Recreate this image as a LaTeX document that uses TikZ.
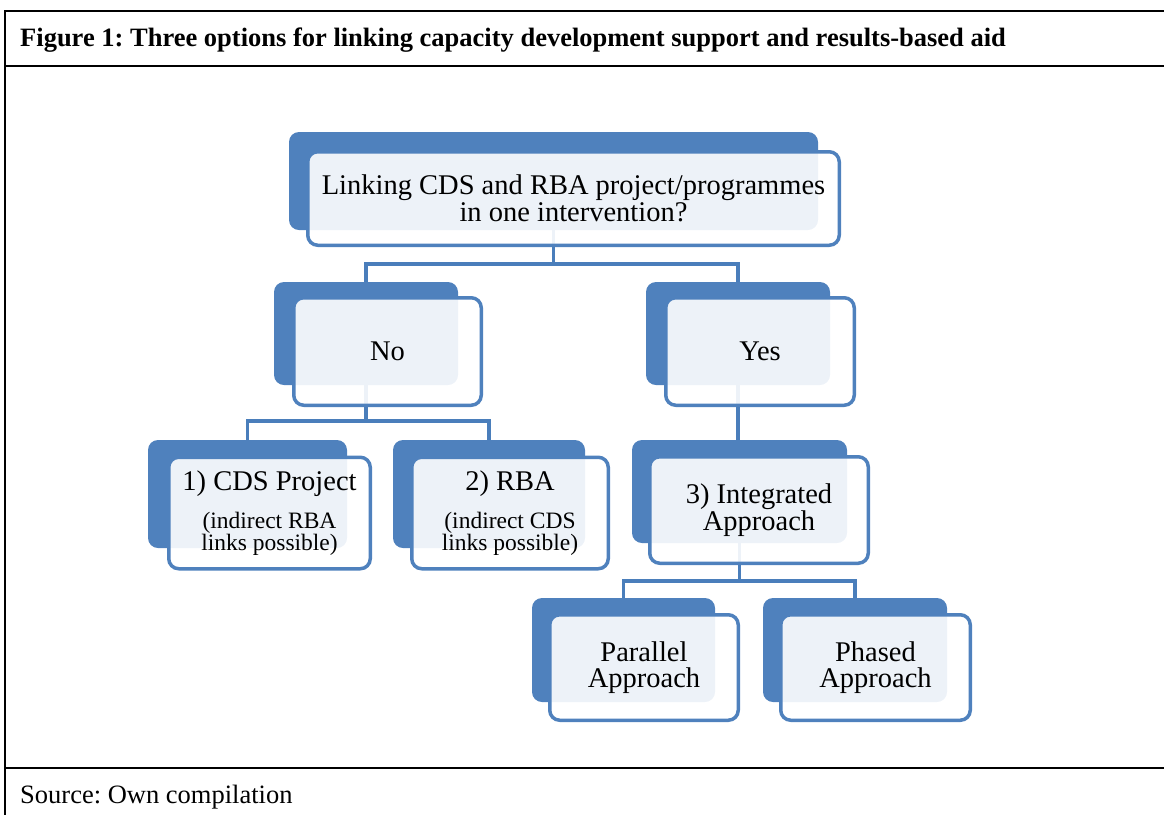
\documentclass[tikz,border=0pt]{standalone}
\usepackage{fontspec}
\setmainfont{Liberation Serif}
\usetikzlibrary{calc}
\definecolor{dkblue}{HTML}{4F81BD}
\definecolor{lnblue}{HTML}{4A7EBB}
\frenchspacing
\begin{document}
\begin{tikzpicture}[x=1pt,y=-1pt,
  back/.style={fill=dkblue, draw=none, rounded corners=10pt, inner sep=0pt},
  front/.style={draw=dkblue, line width=3.5pt, fill=white, fill opacity=0.9, text opacity=1,
    rounded corners=10pt, inner sep=0pt, align=center, font=\fontsize{28.5}{26.5}\selectfont},
  tight/.style={font=\fontsize{28.5}{22}\selectfont},
  conn/.style={draw=lnblue, line width=3.5pt},
  frameline/.style={line width=2.5pt, draw=black}]
\useasboundingbox (0,0) rectangle (1164,815);
% frame
\draw[frameline] (5,11) -- (1164,11);
\draw[frameline] (5,10) -- (5,815);
\draw[frameline] (5,66) -- (1164,66);
\draw[frameline] (5,768) -- (1164,768);
\node[anchor=west, inner sep=0pt, font=\bfseries\fontsize{26.5}{26.5}\selectfont] (title) at (20,40)
  {Figure 1: Three options for linking capacity development support and results-based aid};
\node[anchor=west, inner sep=0pt, font=\fontsize{26.5}{26.5}\selectfont] (source) at (20,797)
  {Source: Own compilation};
% back boxes
\node[back, minimum width=529pt, minimum height=98pt] (tb) at (553.5,181) {};
\node[back, minimum width=184pt, minimum height=103pt] (nob) at (366,333.5) {};
\node[back, minimum width=184pt, minimum height=103pt] (yesb) at (738,333.5) {};
\node[back, minimum width=199pt, minimum height=108pt] (cdsb) at (247.5,494) {};
\node[back, minimum width=192pt, minimum height=108pt] (rbab) at (489,494) {};
\node[back, minimum width=215pt, minimum height=103pt] (intb) at (739.5,491.5) {};
\node[back, minimum width=183pt, minimum height=104pt] (parb) at (623.5,650) {};
\node[back, minimum width=184pt, minimum height=104pt] (phab) at (855,650) {};
% connectors
\coordinate (m1) at (553.5,264);
\coordinate (m2) at (366,421);
\coordinate (m3) at (739.5,581);
\draw[conn] (tb.south) -- (m1) -| (nob.north);
\draw[conn] (m1) -| (yesb.north);
\draw[conn] (nob.south) -- (m2) -| (cdsb.north);
\draw[conn] (m2) -| (rbab.north);
\draw[conn] (yesb.south) -- (yesb.center |- intb.north);
\draw[conn] (intb.south) -- (m3) -| (parb.north);
\draw[conn] (m3) -| (phab.north);
% front boxes
\node[front, minimum width=531.5pt, minimum height=93.5pt] (tf) at (573.5,198.5)
  {Linking CDS and RBA project/programmes\\in one intervention?};
\node[front, minimum width=187.5pt, minimum height=107.5pt] (nof) at (387.5,351.5) {No};
\node[front, minimum width=188.5pt, minimum height=107.5pt] (yesf) at (760,351.5) {Yes};
\node[front, tight, minimum width=201.5pt, minimum height=111.5pt] (cdsf) at (269.5,513)
  {1) CDS Project\\[15pt]{\fontsize{23.5}{22}\selectfont (indirect RBA}\\{\fontsize{23.5}{22}\selectfont links possible)}};
\node[front, tight, minimum width=196.5pt, minimum height=111.5pt] (rbaf) at (510,513)
  {2) RBA\\[15pt]{\fontsize{23.5}{22}\selectfont (indirect CDS}\\{\fontsize{23.5}{22}\selectfont links possible)}};
\node[front, minimum width=218.5pt, minimum height=106.5pt] (intf) at (759,510)
  {3) Integrated\\Approach};
\node[front, minimum width=188.5pt, minimum height=105.5pt] (parf) at (644,667.5)
  {Parallel\\Approach};
\node[front, minimum width=189.5pt, minimum height=105.5pt] (phaf) at (875.5,667.5)
  {Phased\\Approach};
\end{tikzpicture}
\end{document}
